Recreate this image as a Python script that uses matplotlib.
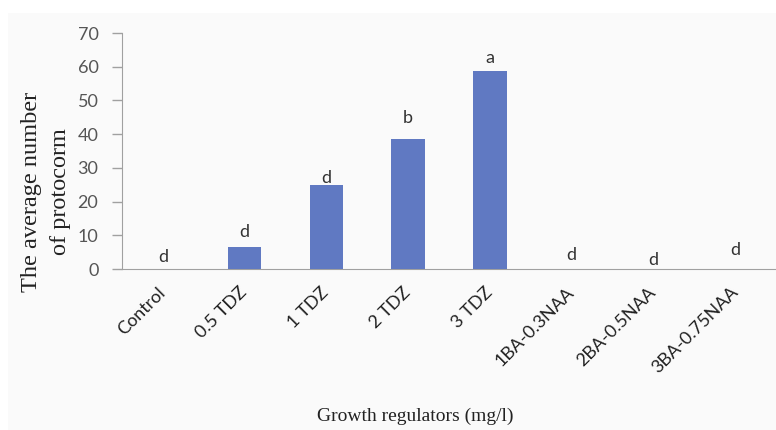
import matplotlib
matplotlib.use("Agg")
import matplotlib.pyplot as plt
import matplotlib.transforms as mtrans
from matplotlib.patches import Rectangle

categories = ["Control", "0.5 TDZ", "1 TDZ", "2 TDZ", "3 TDZ", "1BA-0.3NAA", "2BA-0.5NAA", "3BA-0.75NAA"]
values = [0, 6.4, 24.8, 38.5, 58.6, 0, 0, 0]
letters = ["d", "d", "d", "b", "a", "d", "d", "d"]
letter_y = [2.1, 9.5, 25.5, 43.3, 61.1, 2.7, 1.2, 4.2]
yticks = [0, 10, 20, 30, 40, 50, 60, 70]

fig = plt.figure(figsize=(7.76, 4.30), dpi=100)
fig.patch.set_facecolor("white")
fig.patches.append(Rectangle((8/776, 0), 1, 1 - 13/430, transform=fig.transFigure,
                             facecolor="#fafafa", edgecolor="none", zorder=-10))
ax = fig.add_axes([122/776, 1 - 269/430, 654/776, 236/430])
ax.patch.set_alpha(0)

x = list(range(len(categories)))
ax.bar(x, values, width=0.41, color="#6079c2", zorder=3)
for xi, ly, l in zip(x, letter_y, letters):
    ax.text(xi, ly, l, ha="center", va="baseline", fontsize=13, color="#333333", family="Lato")

ax.set_xlim(-0.5, len(categories) - 0.5)
ax.set_ylim(0, 70)
ax.set_yticks(yticks)
ax.set_yticklabels([str(t) for t in yticks], family="Lato", fontsize=13, color="#555555")
ax.set_xticks(x)
ax.set_xticklabels(categories, rotation=45, ha="right", va="center", rotation_mode="anchor",
                   family="Lato", fontsize=13, color="#222222")
offset = mtrans.ScaledTranslation(5/100, 0, fig.dpi_scale_trans)
for lab in ax.get_xticklabels():
    lab.set_transform(lab.get_transform() + offset)
ax.tick_params(axis="x", length=0, pad=15)
ax.tick_params(axis="y", length=7, color="#a0a0a0", width=1, pad=10)
for s in ["top", "right"]:
    ax.spines[s].set_visible(False)
ax.spines["left"].set_color("#a0a0a0")
ax.spines["bottom"].set_color("#a0a0a0")

fig.text(46/776, 1 - 192/430, "The average number\nof protocorm", rotation=90,
         ha="center", va="center", family="Liberation Serif", fontsize=17.5,
         linespacing=1.45, color="#222222")
fig.text(415/776, 1 - 416/430, "Growth regulators (mg/l)", ha="center", va="center",
         family="Liberation Serif", fontsize=14, color="#222222")

fig.savefig("out.png", dpi=100)
